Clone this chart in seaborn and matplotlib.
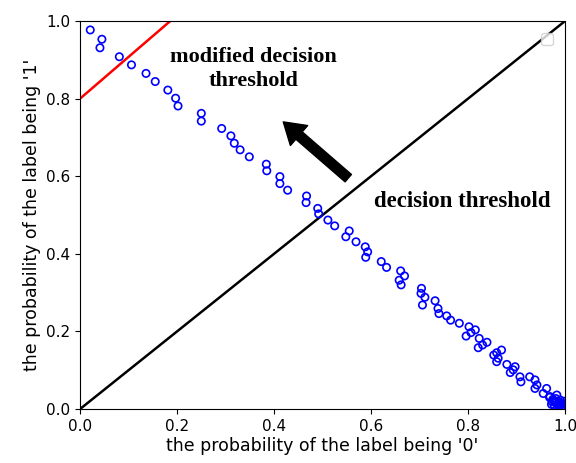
import matplotlib
matplotlib.use('Agg')
import matplotlib.pyplot as plt
import seaborn as sns
import pandas as pd

sns.set_style("ticks", {'axes.edgecolor': 'black', 'text.color': 'black',
                        'axes.labelcolor': 'black', 'xtick.color': 'black',
                        'ytick.color': 'black'})

# probability of label '0' (x) and label '1' (y) for each sample
prob_0 = [0.021, 0.045, 0.041, 0.081, 0.106, 0.136, 0.155, 0.181, 0.197, 0.202,
          0.250, 0.250, 0.292, 0.311, 0.318, 0.330, 0.349, 0.384, 0.385, 0.412,
          0.412, 0.428, 0.467, 0.466, 0.490, 0.492, 0.511, 0.525, 0.555, 0.548,
          0.569, 0.588, 0.593, 0.589, 0.621, 0.632, 0.661, 0.669, 0.658, 0.662,
          0.704, 0.703, 0.711, 0.706, 0.732, 0.738, 0.740, 0.756, 0.764, 0.782,
          0.802, 0.815, 0.806, 0.796, 0.823, 0.839, 0.830, 0.821, 0.869, 0.859,
          0.853, 0.862, 0.859, 0.880, 0.897, 0.893, 0.887, 0.907, 0.909, 0.927,
          0.938, 0.942, 0.938, 0.962, 0.955, 0.969, 0.983, 0.973, 0.990,
          0.968, 0.975, 0.980, 0.985, 0.990, 0.995, 0.998, 0.972, 0.978, 0.984,
          0.988, 0.993, 0.997, 0.999, 0.981, 0.987, 0.992, 0.996, 0.976, 0.989]
prob_1 = [0.977, 0.953, 0.931, 0.908, 0.887, 0.865, 0.844, 0.822, 0.801, 0.781,
          0.762, 0.742, 0.723, 0.704, 0.685, 0.668, 0.650, 0.631, 0.614, 0.599,
          0.581, 0.564, 0.549, 0.532, 0.517, 0.503, 0.487, 0.472, 0.459, 0.444,
          0.431, 0.418, 0.405, 0.391, 0.380, 0.365, 0.356, 0.343, 0.332, 0.320,
          0.311, 0.298, 0.288, 0.268, 0.279, 0.259, 0.246, 0.240, 0.229, 0.221,
          0.212, 0.204, 0.197, 0.188, 0.182, 0.172, 0.165, 0.158, 0.152, 0.145,
          0.139, 0.131, 0.122, 0.115, 0.109, 0.101, 0.094, 0.083, 0.070, 0.083,
          0.075, 0.062, 0.053, 0.053, 0.040, 0.032, 0.036, 0.019, 0.023,
          0.030, 0.025, 0.018, 0.014, 0.010, 0.006, 0.003, 0.012, 0.008, 0.004,
          0.016, 0.012, 0.020, 0.008, 0.027, 0.005, 0.002, 0.014, 0.022, 0.009]

# decision thresholds
base_x = [0.0, 1.0]
base_y = [0.0, 1.0]
modified_x = [0.0, 0.186]
modified_y = [0.8, 1.0]

df = pd.DataFrame({'p0': prob_0, 'p1': prob_1})

fig = plt.figure(figsize=(5.76, 4.63), dpi=100)
ax = fig.add_axes([0.139, 0.1166, 0.842, 0.838])

sns.scatterplot(data=df, x='p0', y='p1', ax=ax, marker='o', s=28,
                facecolors='none', edgecolor='blue', linewidth=1.2, zorder=3)
ax.plot(base_x, base_y, color='black', linewidth=1.8)
ax.plot(modified_x, modified_y, color='red', linewidth=1.8)

ax.annotate('', xy=(0.419, 0.740), xytext=(0.553, 0.595),
            arrowprops=dict(facecolor='black', edgecolor='black',
                            width=7, headwidth=19, headlength=15))

ax.text(0.357, 0.876, 'modified decision\nthreshold', ha='center', va='center',
        family='Liberation Serif', fontweight='bold', fontsize=16,
        linespacing=1.25)
ax.text(0.788, 0.536, 'decision threshold', ha='center', va='center',
        family='Liberation Serif', fontweight='bold', fontsize=16.5)

# empty legend frame, as in the original
ax.legend(handles=[], loc='upper right', borderpad=0.45, borderaxespad=0.85)

ax.set_xlim(0, 1)
ax.set_ylim(0, 1)
ax.set_xticks([0.0, 0.2, 0.4, 0.6, 0.8, 1.0])
ax.set_yticks([0.0, 0.2, 0.4, 0.6, 0.8, 1.0])
ax.tick_params(labelsize=11)
ax.set_xlabel("the probability of the label being '0'", fontsize=12.5, labelpad=2)
ax.set_ylabel("the probability of the label being '1'", fontsize=12.5, labelpad=4)

fig.savefig('out.png', dpi=100)
